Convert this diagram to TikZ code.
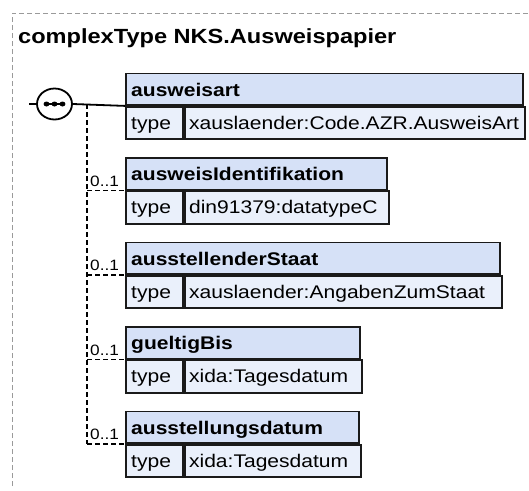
\documentclass[tikz,border=0pt]{standalone}
\usepackage{fontspec}
\usetikzlibrary{shapes.geometric}
\setmainfont{Liberation Sans}[FakeStretch=1.15]
\definecolor{hdrfill}{HTML}{D6E1F7}
\definecolor{typefill}{HTML}{EAF0FB}
\definecolor{boxline}{HTML}{1A1A1A}
\definecolor{framecol}{HTML}{9A9A9A}
\tikzset{
  hdrbox/.style={draw=boxline, fill=hdrfill, line width=1.9pt, minimum height=31.5pt, inner sep=0pt, anchor=north west},
  typebox/.style={draw=boxline, fill=typefill, line width=1.9pt, minimum height=32.5pt, inner sep=0pt, anchor=north west},
  hdrtext/.style={anchor=base west, inner sep=0pt, font=\bfseries\fontsize{18.3}{22}\selectfont},
  typetext/.style={anchor=base west, inner sep=0pt, font=\fontsize{18.3}{22}\selectfont},
  occtext/.style={anchor=base west, inner sep=0pt, font=\fontsize{15}{18}\selectfont},
  conn/.style={line width=1.8pt, draw=black},
  dconn/.style={line width=1.8pt, draw=black, dash pattern=on 5pt off 3pt},
  framedash/.style={line width=1pt, draw=framecol, dash pattern=on 5pt off 3pt},
}
\newcommand\xsdbox[5]{%
  \node[hdrbox, minimum width=#3pt] (#1h) at (125,#2) {};
  \node[typebox, minimum width=57pt] (#1t) at (#1h.south west) {};
  \node[typebox, minimum width={#3pt-57pt}] (#1v) at (#1t.north east) {};
  \node[hdrtext] (#1ht) at ([xshift=6pt,yshift=9.5pt]#1h.south west) {#4};
  \node[typetext] (#1tt) at ([xshift=6pt,yshift=11pt]#1t.south west) {type};
  \node[typetext] (#1vt) at ([xshift=5pt,yshift=11pt]#1v.south west) {#5};
}
\begin{document}
\begin{tikzpicture}[x=1pt,y=-1pt]
\useasboundingbox (0,0) rectangle (529,490);
% frame
\coordinate (fbl) at (12,486);
\coordinate (ftl) at (12,13);
\coordinate (ftr) at (529,13);
\draw[framedash] (fbl) -- (ftl) -- (ftr);
% title
\node[anchor=base west, inner sep=0pt, font=\bfseries\fontsize{20.5}{24}\selectfont] (title) at (18,43.5) {complexType NKS.Ausweispapier};
% boxes
\xsdbox{a}{72.5}{397}{ausweisart}{xauslaender:Code.AZR.AusweisArt}
\xsdbox{b}{157}{261}{ausweisIdentifikation}{din91379:datatypeC}
\xsdbox{c}{241.5}{374}{ausstellenderStaat}{xauslaender:AngabenZumStaat}
\xsdbox{d}{326}{234}{gueltigBis}{xida:Tagesdatum}
\xsdbox{e}{410.5}{233}{ausstellungsdatum}{xida:Tagesdatum}
% sequence compositor
\coordinate (start) at (29,104);
\node[ellipse, draw=black, fill=white, line width=1.8pt, minimum width=35pt, minimum height=31pt, inner sep=0pt] (seq) at (54.5,104) {};
\draw[conn] (start) -- (seq.west);
\draw[conn] (seq.east) -- (ah.south west);
\draw[line width=1.4pt] ([xshift=-8pt]seq.center) -- ([xshift=8pt]seq.center);
\fill ([xshift=-8pt]seq.center) ellipse [x radius=2.9, y radius=2.5];
\fill (seq.center) ellipse [x radius=2.9, y radius=2.5];
\fill ([xshift=8pt]seq.center) ellipse [x radius=2.9, y radius=2.5];
% optional branches
\coordinate (jn) at (87,104);
\draw[dconn] (jn) -- (jn |- eh.south west);
\draw[dconn] (jn |- bh.south west) -- (bh.south west);
\draw[dconn] (jn |- ch.south west) -- (ch.south west);
\draw[dconn] (jn |- dh.south west) -- (dh.south west);
\draw[dconn] (jn |- eh.south west) -- (eh.south west);
\node[occtext] (ob) at (90,186) {0..1};
\node[occtext] (oc) at (90,270.5) {0..1};
\node[occtext] (od) at (90,355) {0..1};
\node[occtext] (oe) at (90,439.5) {0..1};
\end{tikzpicture}
\end{document}
